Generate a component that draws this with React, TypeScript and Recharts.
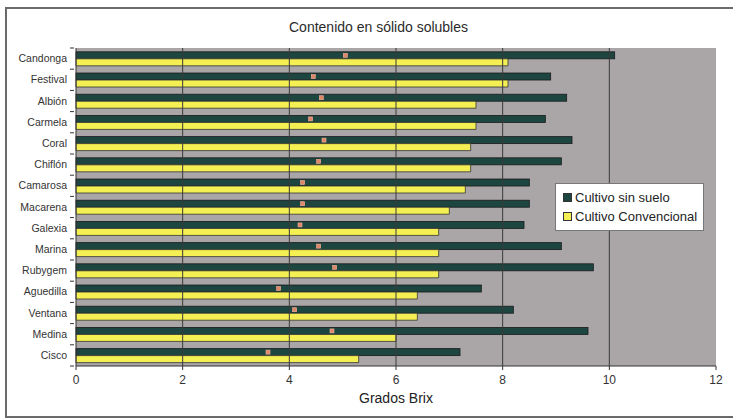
import { BarChart, Bar, XAxis, YAxis, CartesianGrid, ReferenceLine, Legend } from 'recharts'

// Varieties, listed top to bottom
const varieties = [
  'Candonga', 'Festival', 'Albión', 'Carmela', 'Coral', 'Chiflón', 'Camarosa', 'Macarena',
  'Galexia', 'Marina', 'Rubygem', 'Aguedilla', 'Ventana', 'Medina', 'Cisco',
]

// Grados Brix per variety
const sinSuelo = [10.1, 8.9, 9.2, 8.8, 9.3, 9.1, 8.5, 8.5, 8.4, 9.1, 9.7, 7.6, 8.2, 9.6, 7.2]
const convencional = [8.1, 8.1, 7.5, 7.5, 7.4, 7.4, 7.3, 7.0, 6.8, 6.8, 6.8, 6.4, 6.4, 6.0, 5.3]

const xTicks = [0, 2, 4, 6, 8, 10, 12]

const seriesNames = ['Cultivo sin suelo', 'Cultivo Convencional']
const seriesColors = ['#1d4641', '#f4ef52']

const data = varieties.map((name, i) => ({
  name,
  sinSuelo: sinSuelo[i],
  convencional: convencional[i],
}))

const FONT = '"Liberation Sans", Arial, sans-serif'

// dark bar with the small orange marker at its middle
const MarkedBar = (props: any) => {
  const { x, y, width, height, fill } = props
  const cx = x + width / 2
  const cy = y + height / 2
  return (
    <g>
      <rect x={x} y={y} width={width} height={height} fill={fill} stroke="#1a1a1a" strokeWidth={0.8} />
      <rect x={cx - 2} y={cy - 2} width={4} height={4} fill="#e0876a" stroke="#f1b49c" strokeWidth={0.6} />
    </g>
  )
}

// category label plus the small tick marks between categories
const VarietyTick = (props: any) => {
  const { x, y, payload, index } = props
  const half = payload.offset ?? 0
  const axisX = x + 6
  return (
    <g>
      <line x1={axisX - 4} x2={axisX} y1={y - half} y2={y - half} stroke="#333" />
      {index === varieties.length - 1 && (
        <line x1={axisX - 4} x2={axisX} y1={y + half} y2={y + half} stroke="#333" />
      )}
      <text x={x - 1} y={y} dy="0.35em" textAnchor="end" fill="#333" fontSize={10.5} fontFamily={FONT}>
        {payload.value}
      </text>
    </g>
  )
}

const LegendBox = () => (
  <div style={{
    background: '#fff',
    border: '1px solid #777',
    padding: '4px 6px 4px 7px',
    fontFamily: FONT,
    fontSize: 13,
    color: '#222',
    lineHeight: '19px',
  }}>
    {seriesNames.map((n, i) => (
      <div key={n} style={{ display: 'flex', alignItems: 'center', whiteSpace: 'nowrap' }}>
        <span style={{
          display: 'inline-block', width: 7, height: 7, marginRight: 3,
          background: seriesColors[i], border: '1px solid #333',
        }} />
        {n}
      </div>
    ))}
  </div>
)

export default function App() {
  return (
    <div style={{ position: 'absolute', left: 0, top: 0, width: 733, height: 418, overflow: 'hidden', background: '#fff' }}>
      <div style={{
        position: 'absolute', left: 5, top: 7, width: 740, height: 407,
        border: '2px solid #6a6a6a',
      }} />
      <div style={{
        position: 'absolute', left: 0, width: 757, top: 19, textAlign: 'center',
        fontFamily: FONT, fontSize: 14, color: '#2b2b2b',
      }}>
        Contenido en sólido solubles
      </div>
      <BarChart
        layout="vertical"
        width={733}
        height={418}
        data={data}
        margin={{ top: 48, right: 17, bottom: 7, left: 6 }}
        barCategoryGap="18%"
        barGap={0}
        style={{ position: 'absolute', left: 0, top: 0 }}
      >
        <CartesianGrid horizontal={false} vertical={false} fill="#aaa6a8" stroke="none" />
        {xTicks.filter(t => t > 0 && t < 12).map(t => (
          <ReferenceLine key={t} x={t} stroke="#3a3a3a" strokeWidth={1} />
        ))}
        <XAxis
          type="number"
          domain={[0, 12]}
          ticks={xTicks}
          height={45}
          tickSize={4}
          tickMargin={5}
          stroke="#333"
          tick={{ fill: '#333', fontSize: 12, fontFamily: FONT }}
          label={{ value: 'Grados Brix', position: 'insideBottom', offset: 8, fill: '#222', fontSize: 14, fontFamily: FONT }}
        />
        <YAxis
          type="category"
          dataKey="name"
          width={70}
          tickLine={false}
          stroke="#333"
          tick={<VarietyTick />}
          interval={0}
        />
        <Legend
          layout="vertical"
          align="center"
          verticalAlign="middle"
          content={<LegendBox />}
          wrapperStyle={{ position: 'absolute', left: 555, top: 183, width: 'auto' }}
        />
        <Bar dataKey="sinSuelo" name={seriesNames[0]} fill={seriesColors[0]} shape={<MarkedBar />} isAnimationActive={false} />
        <Bar dataKey="convencional" name={seriesNames[1]} fill={seriesColors[1]} stroke="#333" strokeWidth={0.8} isAnimationActive={false} />
      </BarChart>
    </div>
  )
}
